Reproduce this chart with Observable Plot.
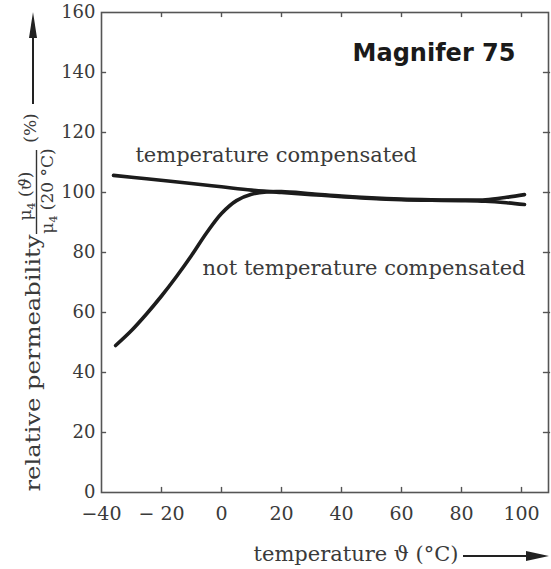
<!DOCTYPE html>
<html>
<head>
<meta charset="utf-8">
<script src="https://cdn.jsdelivr.net/npm/d3@7"></script>
<script src="https://cdn.jsdelivr.net/npm/@observablehq/plot@0.6"></script>
<style>
  html, body { margin: 0; padding: 0; background: #fff; }
</style>
</head>
<body>
<div id="chart"></div>
<script>
// ---- data ----
const seriesNames = ["temperature compensated", "not temperature compensated"];
const compTemp = [-36, -25, -10, 0, 10, 20, 30, 40, 50, 60, 70, 80, 88, 95, 101];
const compPerm = [105.7, 104.6, 103.0, 101.9, 100.8, 100.0, 99.3, 98.6, 98.0, 97.6, 97.4, 97.3, 97.1, 96.6, 96.0];
const ncTemp = [-35.3, -30, -25, -20, -15, -10, -5, 0, 5, 10, 15, 20, 30, 40, 50, 60, 70, 80, 88, 95, 101];
const ncPerm = [49, 54, 59.5, 65.5, 72, 79, 86.5, 93, 97.3, 99.4, 100.2, 100.3, 99.6, 98.8, 98.2, 97.8, 97.6, 97.5, 97.6, 98.4, 99.3];
const xTicks = [-40, -20, 0, 20, 40, 60, 80, 100];
const xTickLabels = ["\u221240", "\u2212 20", "0", "20", "40", "60", "80", "100"];
const yTicks = [0, 20, 40, 60, 80, 100, 120, 140, 160];
const chartTitle = "Magnifer 75";
const xLabel = "temperature \u03D1 (\u00B0C)";
const yLabel = "relative permeability";

const rows = [
  ...compTemp.map((t, i) => ({t, v: compPerm[i], s: seriesNames[0]})),
  ...ncTemp.map((t, i) => ({t, v: ncPerm[i], s: seriesNames[1]}))
];

const ink = "#3a3a3a";
const lineInk = "#1c1c1c";
const serif = "DejaVu Serif";

// axis titles, fraction and arrows drawn as a render mark
function axisTitles(index, scales, values, dims) {
  const g = d3.create("svg:g").attr("fill", ink).attr("font-family", serif);
  // x title
  g.append("text")
    .attr("x", 356).attr("y", 561)
    .attr("text-anchor", "middle").attr("font-size", 21)
    .text(xLabel);
  // x arrow
  g.append("line").attr("x1", 463).attr("x2", 530).attr("y1", 556).attr("y2", 556)
    .attr("stroke", "#222").attr("stroke-width", 2);
  g.append("path").attr("d", "M526,551 L549,556 L526,561 Z").attr("fill", "#222");

  // y title (rotated)
  g.append("text")
    .attr("transform", "translate(40,363) rotate(-90)")
    .attr("text-anchor", "middle").attr("font-size", 21)
    .attr("textLength", 257).attr("lengthAdjust", "spacingAndGlyphs")
    .text(yLabel);
  // numerator
  const num = g.append("text")
    .attr("transform", "translate(31,196) rotate(-90)")
    .attr("text-anchor", "middle").attr("font-size", 17);
  num.append("tspan").text("\u03BC");
  num.append("tspan").attr("font-size", 11).attr("dy", 4).text("4");
  num.append("tspan").attr("dy", -4).text(" (");
  num.append("tspan").attr("font-style", "italic").text("\u03D1");
  num.append("tspan").text(")");
  // fraction bar
  g.append("line").attr("x1", 36.5).attr("x2", 36.5).attr("y1", 150).attr("y2", 234)
    .attr("stroke", "#333").attr("stroke-width", 1.4);
  // denominator
  const den = g.append("text")
    .attr("transform", "translate(53,191) rotate(-90)")
    .attr("text-anchor", "middle").attr("font-size", 17);
  den.append("tspan").text("\u03BC");
  den.append("tspan").attr("font-size", 11).attr("dy", 4).text("4");
  den.append("tspan").attr("dy", -4).text(" (20 \u00B0C)");
  // percent
  g.append("text")
    .attr("transform", "translate(36,128) rotate(-90)")
    .attr("text-anchor", "middle").attr("font-size", 17)
    .text("(%)");
  // y arrow
  g.append("line").attr("x1", 33).attr("x2", 33).attr("y1", 104).attr("y2", 34)
    .attr("stroke", "#222").attr("stroke-width", 2);
  g.append("path").attr("d", "M29,38 L33,12 L37,38 Z").attr("fill", "#222");
  return g.node();
}

const chart = Plot.plot({
  width: 551,
  height: 569,
  marginLeft: 101,
  marginRight: 3,
  marginTop: 12,
  marginBottom: 77,
  style: {fontFamily: serif, fontSize: "19px", color: ink, background: "#fff"},
  x: {domain: [-40, 109], label: null},
  y: {domain: [0, 160], label: null},
  marks: [
    Plot.frame({stroke: "#555", strokeWidth: 1.6}),
    // inward ticks on all four sides
    Plot.ruleX(xTicks.slice(1), {x: d => d, y1: 0, y2: 1.7, stroke: "#555", strokeWidth: 1.4}),
    Plot.ruleX(xTicks.slice(1), {x: d => d, y1: 160, y2: 158.3, stroke: "#555", strokeWidth: 1.4}),
    Plot.ruleY(yTicks.slice(1, -1), {y: d => d, x1: -40, x2: -38.3, stroke: "#555", strokeWidth: 1.4}),
    Plot.ruleY(yTicks.slice(1, -1), {y: d => d, x1: 107.3, x2: 109.7, stroke: "#555", strokeWidth: 1.4}),
    Plot.axisX(xTicks, {
      tickSize: 0, tickPadding: 14, label: null, fontSize: 19,
      tickFormat: d => xTickLabels[xTicks.indexOf(d)]
    }),
    Plot.axisY(yTicks, {tickSize: 0, tickPadding: 6, label: null, fontSize: 18}),
    Plot.line(rows, {
      x: "t", y: "v", z: "s", stroke: lineInk, strokeWidth: 3.6,
      curve: "catmull-rom", strokeLinecap: "round"
    }),
    Plot.text([seriesNames[0]], {
      x: -28.7, y: 112.3, text: d => d, textAnchor: "start",
      fontSize: 21, fill: ink
    }),
    Plot.text([seriesNames[1]], {
      x: -6.3, y: 74.7, text: d => d, textAnchor: "start",
      fontSize: 21, fill: ink
    }),
    Plot.text([chartTitle], {
      x: 98, y: 146.5, text: d => d, textAnchor: "end",
      fontSize: 24, fontWeight: "bold", fontFamily: "DejaVu Sans", fill: "#1a1a1a"
    }),
    axisTitles
  ]
});

document.getElementById("chart").appendChild(chart);
</script>
</body>
</html>
